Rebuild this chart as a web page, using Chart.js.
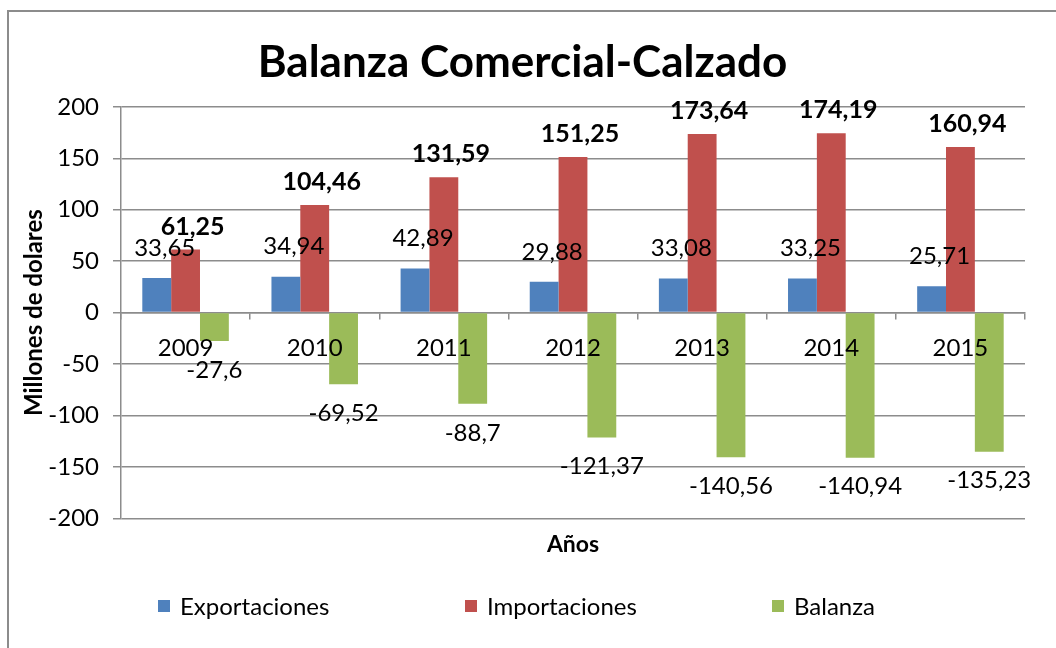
<!DOCTYPE html>
<html lang="es">
<head>
<meta charset="utf-8">
<title>Balanza Comercial-Calzado</title>
<script src="https://cdn.jsdelivr.net/npm/chart.js@4.4.1/dist/chart.umd.min.js"></script>
<style>
  html, body { margin: 0; padding: 0; background: #fff; overflow: hidden; }
  #wrap { position: relative; width: 1056px; height: 648px; }
  #frame { position: absolute; left: 7px; top: 10px; width: 1200px; height: 800px;
           border-top: 2px solid #8c8c8c; border-left: 2px solid #8c8c8c; }
  #chart { position: absolute; left: 0; top: 0; }
  #legend { position: absolute; left: 158px; top: 591px; display: flex;
            font-family: Lato, sans-serif; font-size: 24px; color: #000; }
  #legend .item { width: 307px; display: flex; align-items: center; }
  #legend .box { width: 12px; height: 12px; margin-right: 10px; }
</style>
</head>
<body>
<div id="wrap">
  <div id="frame"></div>
  <canvas id="chart" width="1056" height="648"></canvas>
  <div id="legend"></div>
</div>
<script>
// ---------- Data ----------
const years = ['2009', '2010', '2011', '2012', '2013', '2014', '2015'];
const exportaciones = [33.65, 34.94, 42.89, 29.88, 33.08, 33.25, 25.71];
const importaciones = [61.25, 104.46, 131.59, 151.25, 173.64, 174.19, 160.94];
const balanza = [-27.6, -69.52, -88.7, -121.37, -140.56, -140.94, -135.23];
const yMin = -200;
const yMax = 200;
const yStep = 50;

// ---------- Style ----------
const GRID = '#8c8c8c';
const FONT = 'Lato, sans-serif';

// comma as decimal mark, like the original sheet
function fmt(v) {
  return String(v).replace('.', ',');
}

// value labels above / below each bar
const valueLabels = {
  id: 'valueLabels',
  afterDatasetsDraw(chart) {
    const ctx = chart.ctx;
    chart.data.datasets.forEach((ds, i) => {
      const meta = chart.getDatasetMeta(i);
      if (meta.hidden) return;
      ctx.save();
      ctx.font = ds.labelFont;
      ctx.fillStyle = '#000';
      ctx.textAlign = 'center';
      ctx.textBaseline = 'middle';
      meta.data.forEach((bar, j) => {
        const v = ds.data[j];
        const y = v < 0 ? bar.y + ds.labelGap : bar.y - ds.labelGap;
        ctx.fillText(fmt(v), bar.x + ds.labelDx, y);
      });
      ctx.restore();
    });
  }
};

// legend built in the DOM so the items can be spread like the original
const htmlLegend = {
  id: 'htmlLegend',
  afterUpdate(chart) {
    const box = document.getElementById('legend');
    box.innerHTML = '';
    chart.data.datasets.forEach(ds => {
      const item = document.createElement('div');
      item.className = 'item';
      const sw = document.createElement('span');
      sw.className = 'box';
      sw.style.background = ds.backgroundColor;
      const tx = document.createElement('span');
      tx.textContent = ds.label;
      item.append(sw, tx);
      box.appendChild(item);
    });
  }
};

new Chart(document.getElementById('chart'), {
  type: 'bar',
  data: {
    labels: years,
    datasets: [
      { label: 'Exportaciones', data: exportaciones, backgroundColor: '#4F81BD',
        labelFont: '24px ' + FONT, labelGap: 30, labelDx: 8 },
      { label: 'Importaciones', data: importaciones, backgroundColor: '#C0504D',
        labelFont: 'bold 25px ' + FONT, labelGap: 23, labelDx: 7 },
      { label: 'Balanza', data: balanza, backgroundColor: '#9BBB59',
        labelFont: '24px ' + FONT, labelGap: 29, labelDx: 0 }
    ]
  },
  options: {
    responsive: false,
    animation: false,
    layout: { padding: { left: 20, right: 31, top: 0, bottom: 78 } },
    datasets: { bar: { categoryPercentage: 0.67, barPercentage: 1 } },
    plugins: {
      legend: { display: false },
      tooltip: { enabled: false },
      title: {
        display: true,
        text: 'Balanza Comercial-Calzado',
        color: '#000',
        font: { family: FONT, size: 44, weight: 'bold' },
        padding: { top: 36, bottom: 18 }
      }
    },
    scales: {
      x: {
        position: { y: 0 },
        grid: { drawOnChartArea: false, color: GRID, lineWidth: 1.5, tickLength: 6 },
        border: { color: GRID, width: 1.5 },
        // z > 0: year labels are drawn over the bars
        ticks: { z: 1, color: '#000', font: { family: FONT, size: 24 }, padding: 15 }
      },
      x2: {
        type: 'category',
        position: 'bottom',
        grid: { display: false, drawTicks: false },
        border: { display: false },
        ticks: { display: false },
        title: {
          display: true,
          text: 'Años',
          color: '#000',
          font: { family: FONT, size: 23, weight: 'bold' },
          padding: { top: 12, bottom: 12 }
        }
      },
      y: {
        min: yMin,
        max: yMax,
        ticks: { stepSize: yStep, color: '#000', font: { family: FONT, size: 24 }, padding: 14 },
        grid: { color: GRID, lineWidth: 1.5, tickLength: 8 },
        border: { color: GRID, width: 1.5 },
        title: {
          display: true,
          text: 'Millones de dolares',
          color: '#000',
          font: { family: FONT, size: 24, weight: 'bold' },
          padding: 0
        },
        afterFit(scale) { scale.width = 101; }
      }
    }
  },
  plugins: [valueLabels, htmlLegend]
});
</script>
</body>
</html>
